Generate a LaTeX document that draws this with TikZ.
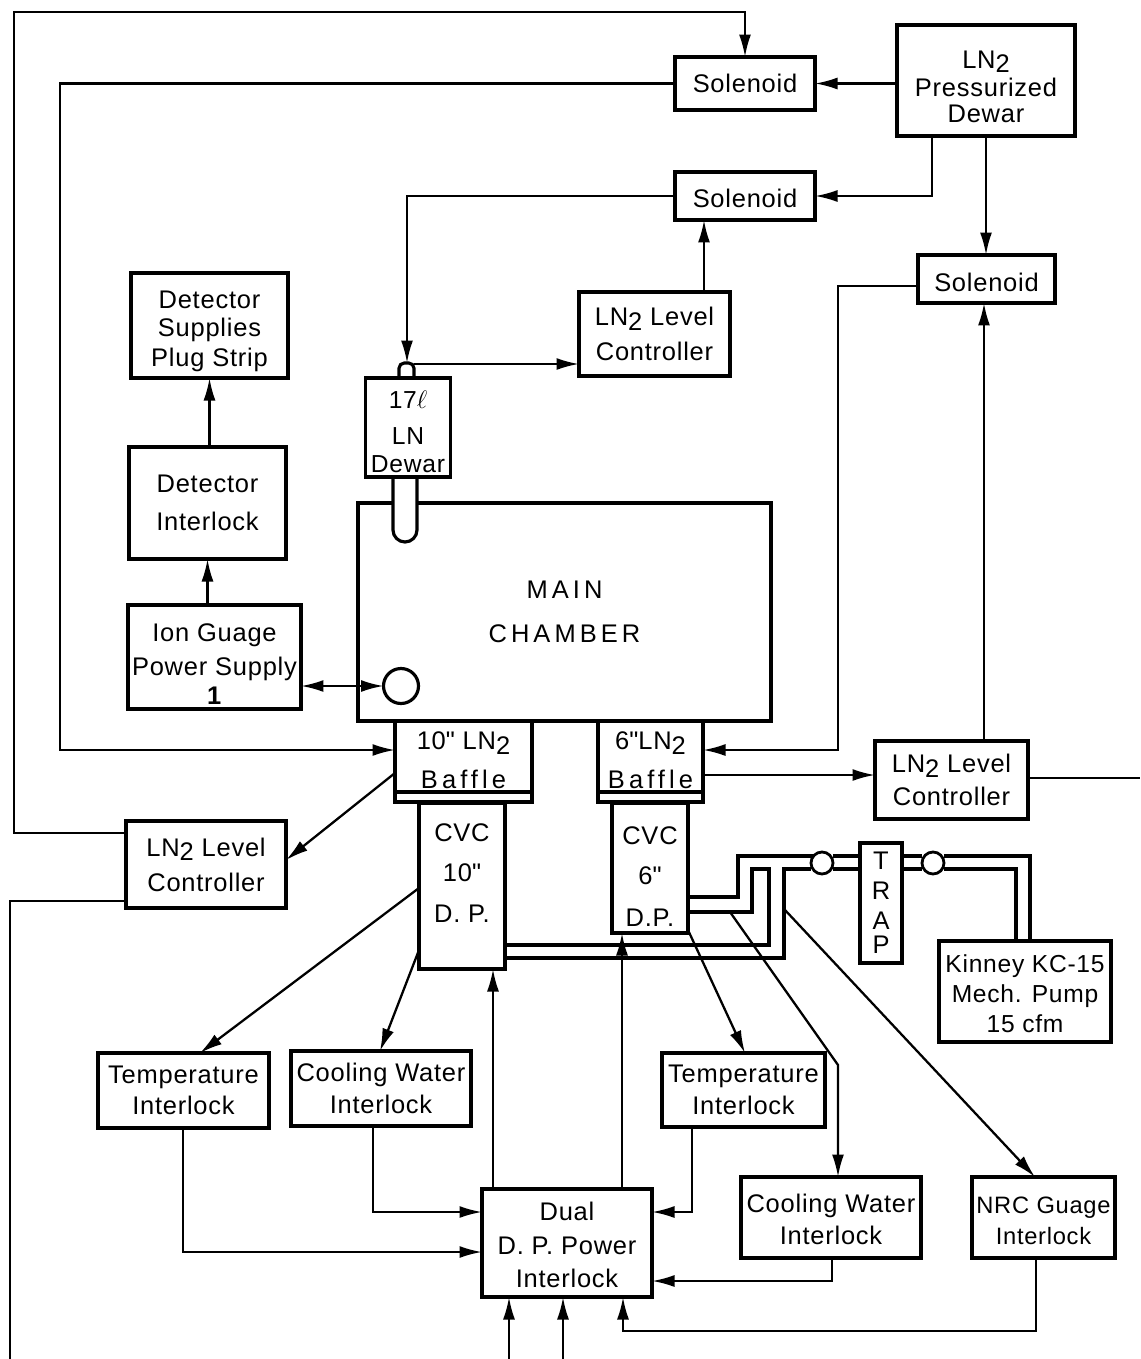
\documentclass[tikz,border=0pt]{standalone}
\usepackage{fontspec}
\setmainfont[LetterSpace=3]{Liberation Sans}
\newfontfamily\widefont[LetterSpace=16]{Liberation Sans}
\usetikzlibrary{arrows.meta}
\newcommand{\lnsub}{LN\raisebox{-0.35ex}{2}}
\newcommand{\topgap}[1]{\rule{0pt}{#1pt}}
\tikzset{
  box/.style 2 args={draw, line width=1.8pt, outer sep=0pt, inner sep=0pt, align=center, font=\fontsize{14.5}{16}\selectfont,
    minimum width=#1*0.02cm, minimum height=#2*0.02cm},
  valve/.style={draw, fill=white, circle, line width=1.6pt, outer sep=0pt, inner sep=0pt, minimum size=0.4cm},
  wire/.style={line width=1.3pt, -{Latex[length=4.5mm,width=2.4mm]}},
  plainwire/.style={line width=1.3pt},
  pipe/.style={line width=1.8pt}
}
\begin{document}
\begin{tikzpicture}[x=0.02cm, y=-0.02cm]
  \useasboundingbox (0,0) rectangle (1140,1359);

  % Upper row
  \node[box={140}{53}] (sola) at (745,83.5) {Solenoid};
  \node[box={178}{111}] (dewar) at (986,80.5) {\topgap{17}\lnsub\\[0pt]Pressurized\\[-1pt]Dewar};
  \node[box={140}{48}] (solb) at (745,196) {\topgap{13}Solenoid};
  \node[box={137}{48}] (solc) at (986.5,279) {\topgap{14}Solenoid};
  \node[box={151}{84}] (ctrla) at (654.5,334) {\lnsub\ Level\\[4pt]Controller};

  % Detector column
  \node[box={157}{105}] (plug) at (209.5,325.5) {\topgap{16.5}Detector\\[0pt]Supplies\\[1pt]Plug Strip};
  \node[box={157}{112}] (detint) at (207.5,503) {Detector\\[6pt]Interlock};
  \node[box={173}{104}] (iongauge) at (214.5,657) {\topgap{18.5}Ion Guage\\[3pt]Power Supply\\[1pt]\textbf{1}};

  % Chamber with dewar
  \node[box={413}{218}, font=\fontsize{14.5}{16}\selectfont\widefont] (chamber) at (564.5,612) {MAIN\\[9pt]CHAMBER};
  \draw[line width=1.8pt, fill=white] (393,477) -- (393,530) arc (180:0:12) -- (417,477);
  \draw[line width=1.8pt, fill=white, rounded corners=3pt] (399,379) -- (399,363) -- (414,363) -- (414,379);
  \node[box={85}{99}, fill=white, font=\fontsize{14}{16}\selectfont] (ldewar) at (408,427.5) {\topgap{15}17$\ell$\\[4pt]LN\\[0pt]Dewar};
  \coordinate (neck) at (407,363);
  \node[valve, minimum size=0.7cm, line width=1.8pt] (port) at (401,686) {};

  % Baffles and pumps
  \node[box={137}{71}] (baffleten) at (463.5,756.5) {\topgap{14}10\textquotedbl\ \lnsub\\[6pt]{\widefont Baffle}};
  \node[box={137}{10}] (flangeten) at (463.5,797) {};
  \node[box={105}{71}] (bafflesix) at (650.5,756.5) {\topgap{14}6\textquotedbl\lnsub\\[6pt]{\widefont Baffle}};
  \node[box={105}{10}] (flangesix) at (650.5,797) {};
  \node[box={86}{166}, text depth=15pt] (cvcten) at (462,886) {CVC\\[7pt]10\textquotedbl\\[7pt]D. P.};
  \node[box={76}{130}] (cvcsix) at (650,868) {\topgap{20}CVC\\[7pt]6\textquotedbl\\[8pt]D.P.};
  \node[box={153}{78}] (ctrlb) at (951.5,780) {\lnsub\ Level\\[3pt]Controller};
  \node[box={160}{87}] (ctrlc) at (206,864.5) {\lnsub\ Level\\[4pt]Controller};
  \node[box={42}{120}] (trap) at (881,903) {T\\[1pt]R\\[1pt]A\\[-2pt]P};
  \node[box={172}{101}, font=\fontsize{14}{16}\selectfont] (kinney) at (1025,991.5) {\topgap{13}Kinney KC-15\\[1pt]Mech. Pump\\[1pt]15 cfm};

  % Interlocks
  \node[box={171}{75}] (tempa) at (183.5,1090.5) {Temperature\\[2pt]Interlock};
  \node[box={180}{75}] (coola) at (381,1088.5) {Cooling Water\\[2pt]Interlock};
  \node[box={163}{74}] (tempb) at (743.5,1090) {Temperature\\[2pt]Interlock};
  \node[box={170}{108}] (dual) at (567,1243) {\topgap{13}Dual\\[3pt]D. P. Power\\[3pt]Interlock};
  \node[box={180}{81}] (coolb) at (831,1217.5) {\topgap{13}Cooling Water\\[2pt]Interlock};
  \node[box={143}{81}, font=\fontsize{13.5}{16}\selectfont] (nrc) at (1043.5,1217.5) {\topgap{13}NRC Guage\\[2pt]Interlock};

  % Free ends and turning points
  \coordinate (topleft) at (14,12);
  \coordinate (sidea) at (60,750);
  \coordinate (sideb) at (838,750);
  \coordinate (edgeb) at (1140,778);
  \coordinate (edgec) at (10,1359);
  \coordinate (foota) at (509,1359);
  \coordinate (footb) at (563,1359);
  \coordinate (tapa) at (932,136);
  \coordinate (tapb) at (986,136);
  \coordinate (tapc) at (704,292);
  \coordinate (tapd) at (984,303);
  \coordinate (tape) at (745,57);

  % Nitrogen lines
  \draw[wire] (ctrlc.west |- 0,833) -| (topleft) -| (tape);
  \draw[wire] (sola.west) -| (sidea) -- (baffleten.west |- sidea);
  \draw[wire] (sola.east -| dewar.west) -- (sola.east);
  \draw[wire] (tapa) |- (solb.east);
  \draw[wire] (tapb) -- (tapb |- solc.north);
  \draw[wire] (solb.west) -| (neck);
  \draw[wire] (neck) ++(7,1) -- (ctrla.west |- 0,364);
  \draw[wire] (tapc) -- (tapc |- solb.south);
  \draw[wire] (solc.west |- 0,286) -| (sideb) -- (bafflesix.east |- sideb);
  \draw[wire] (bafflesix.east |- 0,775) -- (ctrlb.west |- 0,775);
  \draw[wire] (ctrlb.north -| tapd) -- (tapd);
  \draw[plainwire] (ctrlb.east |- edgeb) -- (edgeb);
  \draw[wire] (baffleten.west |- 0,773) -- (ctrlc.east |- 0,860);
  \draw[plainwire] (ctrlc.west |- 0,901) -| (edgec);

  % Detector lines
  \draw[wire] (detint.north -| plug.south) -- (plug.south);
  \draw[wire] (iongauge.north -| detint.south) -- (detint.south);
  \draw[wire, {Latex[length=4.5mm,width=2.4mm]}-{Latex[length=4.5mm,width=2.4mm]}] (iongauge.east |- port) -- (port);

  % Interlock lines
  \draw[wire] (cvcten.west |- 0,888) -- (tempa.north -| 200,0);
  \draw[wire] (cvcten.west |- 0,950) -- (coola.north -| 380,0);
  \draw[wire] (cvcsix.east |- 0,930) -- (tempb.north -| 745,0);
  \draw[wire] (730,912) -- (838,1065) -- (coolb.north -| 838,0);
  \draw[wire] (785,910) -- (nrc.north -| 1035,0);
  \draw[wire] (tempa.south -| 183,0) |- (dual.west |- 0,1252);
  \draw[wire] (coola.south -| 373,0) |- (dual.west |- 0,1212);
  \draw[wire] (dual.north -| 493,0) -- (cvcten.south -| 493,0);
  \draw[wire] (dual.north -| 622,0) -- (cvcsix.south -| 622,0);
  \draw[wire] (tempb.south -| 692,0) |- (dual.east |- 0,1212);
  \draw[wire] (coolb.south -| 832,0) |- (dual.east |- 0,1281);
  \draw[wire] (nrc.south -| 1036,0) |- (623,1331) -- (dual.south -| 623,0);
  \draw[wire] (foota) -- (dual.south -| foota);
  \draw[wire] (footb) -- (dual.south -| footb);

  % Roughing pipes
  \node[valve, minimum width=0.36cm, minimum height=0.44cm] (valvea) at (822,863) {};
  \node[valve, minimum width=0.36cm, minimum height=0.44cm] (valveb) at (933,863) {};
  \draw[pipe] (cvcsix.east |- 0,897) -| (738,856) -- (valvea.north west |- 0,856);
  \draw[pipe] (cvcsix.east |- 0,912) -| (752,869) -| (769,945) -- (cvcten.east |- 0,945);
  \draw[pipe] (cvcten.east |- 0,958) -| (784,869) -- (valvea.west |- 0,869);
  \draw[pipe] (valvea.east |- 0,856) -- (trap.west |- 0,856);
  \draw[pipe] (valvea.east |- 0,869) -- (trap.west |- 0,869);
  \draw[pipe] (trap.east |- 0,856) -- (valveb.west |- 0,856);
  \draw[pipe] (trap.east |- 0,869) -- (valveb.west |- 0,869);
  \draw[pipe] (valveb.east |- 0,856) -| (kinney.north -| 1030,0);
  \draw[pipe] (valveb.east |- 0,869) -| (kinney.north -| 1016,0);
\end{tikzpicture}
\end{document}
